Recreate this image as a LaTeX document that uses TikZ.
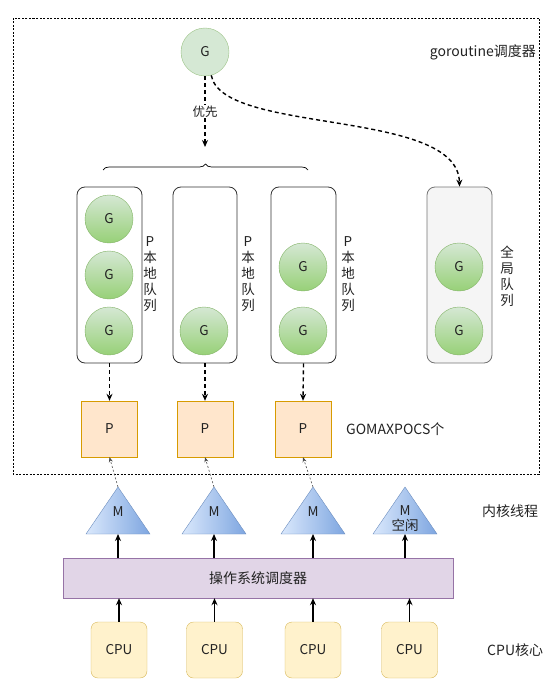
\documentclass[tikz,border=0pt]{standalone}
\usepackage{fontspec}
\setmainfont{Noto Sans CJK SC}
\usetikzlibrary{arrows.meta,decorations.pathreplacing,calc}
\definecolor{gborder}{HTML}{82B366}
\definecolor{gtop}{HTML}{D5E8D4}
\definecolor{gbot}{HTML}{97D077}
\definecolor{pfill}{HTML}{FFE6CC}
\definecolor{pborder}{HTML}{D79B00}
\definecolor{mleft}{HTML}{DAE8FC}
\definecolor{mright}{HTML}{7EA6E0}
\definecolor{mborder}{HTML}{6C8EBF}
\definecolor{osfill}{HTML}{E1D5E7}
\definecolor{osborder}{HTML}{9673A6}
\definecolor{cpufill}{HTML}{FFF2CC}
\definecolor{cpuborder}{HTML}{D6B656}
\definecolor{txt}{HTML}{222222}
\tikzset{
  gnode/.style={circle, minimum size=48pt, inner sep=0pt, draw=gborder, top color=gtop, bottom color=gbot, font=\fontsize{13.5}{13.5}\selectfont, text=txt},
  qbox/.style={draw=black!80, rounded corners=8pt, line width=0.8pt},
  pbox/.style={draw=pborder, fill=pfill, minimum size=56pt, inner sep=0pt, font=\fontsize{13.5}{13.5}\selectfont, text=txt},
  cpubox/.style={draw=cpuborder, fill=cpufill, rounded corners=7pt, minimum size=56pt, inner sep=0pt, font=\fontsize{13.5}{13.5}\selectfont, text=txt},
  lbl/.style={font=\fontsize{14}{14}\selectfont, text=txt, inner sep=0pt},
  vlbl/.style={font=\fontsize{13.5}{16}\selectfont, text=txt, inner sep=0pt, align=center},
  darr/.style={-{Stealth[length=7pt,width=6pt]}, dashed, dash pattern=on 4pt off 3pt, line width=1.4pt},
  thinarr/.style={-{Stealth[length=5pt,width=4pt]}, dashed, dash pattern=on 2pt off 2pt, line width=0.6pt, draw=black!70},
  sarr/.style={-{Stealth[length=7pt,width=6pt]}, line width=1.4pt},
  mtri/.style={draw=mborder, left color=mleft, right color=mright},
}
\begin{document}
\begin{tikzpicture}[x=1pt,y=-1pt]
\useasboundingbox (0,0) rectangle (558,690);
% outer dashed region
\draw[dashed, dash pattern=on 2pt off 1.5pt, line width=0.6pt] (13,18) rectangle (539,474);
\node[lbl, anchor=east] (lgo) at (536,52) {goroutine调度器};

% top G
\node[gnode, draw=gborder!80, top color=gtop, bottom color=gtop] (g0) at (205,52) {G};

% brace
\coordinate (brL) at (103,170);
\coordinate (brR) at (308,170);
\draw[decorate, decoration={brace, amplitude=6pt}, line width=0.7pt] (brL) -- (brR);
\coordinate (brTip) at (205,147);
\draw[darr] (g0.south) -- node[fill=white, lbl, inner sep=1pt, font=\fontsize{12.5}{12.5}\selectfont] (lyx) {优先} (brTip);

% local queues
\node[qbox, minimum width=65pt, minimum height=176pt, inner sep=0pt] (q1) at (109.5,275) {};
\node[qbox, minimum width=64pt, minimum height=176pt, inner sep=0pt] (q2) at (205,275) {};
\node[qbox, minimum width=65pt, minimum height=176pt, inner sep=0pt] (q3) at (303.5,275) {};
\node[qbox, draw=black!55, fill=black!4, minimum width=65pt, minimum height=176pt, inner sep=0pt] (gq) at (459.5,275) {};

\node[gnode] (g11) at (109,219) {G};
\node[gnode] (g12) at (109,275) {G};
\node[gnode] (g13) at (109,331) {G};
\node[gnode] (g21) at (204,331) {G};
\node[gnode] (g31) at (303,267) {G};
\node[gnode] (g32) at (303,331) {G};
\node[gnode] (gg1) at (459,267) {G};
\node[gnode] (gg2) at (459,331) {G};

\node[vlbl, anchor=north] (l1) at (150,236) {P\\本\\地\\队\\列};
\node[vlbl, anchor=north] (l2) at (248,236) {P\\本\\地\\队\\列};
\node[vlbl, anchor=north] (l3) at (348,236) {P\\本\\地\\队\\列};
\node[vlbl, anchor=north] (l4) at (507,246) {全\\局\\队\\列};

% curved arrow
\draw[darr] (g0.-75) .. controls (222,135) and (458,108) .. (gq.north);

% P boxes
\node[pbox] (p1) at (109.5,429) {P};
\node[pbox] (p2) at (205,429) {P};
\node[pbox] (p3) at (303,429) {P};
\node[lbl, anchor=west] (lgm) at (346,429) {GOMAXPOCS个};
\draw[darr] (q1.south) -- (p1.north);
\draw[darr] (q2.south) -- (p2.north);
\draw[darr] (q3.south) -- (p3.north);

% M triangles
\foreach \i/\x in {1/118,2/214,3/313,4/405}{
  \path[mtri] (\x,487) -- (\x+32,534) -- (\x-32,534) -- cycle;
  \coordinate (mt\i) at (\x,487);
  \coordinate (mb\i) at (\x,534);
}
\node[lbl, font=\fontsize{13.5}{13.5}\selectfont] (m1) at (118,512) {M};
\node[lbl, font=\fontsize{13.5}{13.5}\selectfont] (m2) at (214,512) {M};
\node[lbl, font=\fontsize{13.5}{13.5}\selectfont] (m3) at (313,512) {M};
\node[vlbl, font=\fontsize{13.5}{15}\selectfont] (m4) at (405,519) {M\\空闲};
\node[lbl, anchor=west] (lkt) at (482,511) {内核线程};

\draw[thinarr] (mt1) -- (p1.south);
\draw[thinarr] (mt2) -- (p2.south);
\draw[thinarr] (mt3) -- (p3.south);

% OS scheduler
\node[draw=osborder, fill=osfill, minimum width=390pt, minimum height=40pt, inner sep=0pt, lbl] (os) at (258,578) {操作系统调度器};
\draw[sarr] (os.north -| mb1) -- (mb1);
\draw[sarr] (os.north -| mb2) -- (mb2);
\draw[sarr] (os.north -| mb3) -- (mb3);
\draw[sarr] (os.north -| mb4) -- (mb4);

% CPUs
\node[cpubox] (c1) at (119,650) {CPU};
\node[cpubox] (c2) at (214.5,650) {CPU};
\node[cpubox] (c3) at (313,650) {CPU};
\node[cpubox] (c4) at (409.5,650) {CPU};
\node[lbl, anchor=west] (lcpu) at (487,650) {CPU核心};
\draw[sarr] (c1.north) -- (c1.north |- os.south);
\draw[sarr] (c2.north) -- (c2.north |- os.south);
\draw[sarr] (c3.north) -- (c3.north |- os.south);
\draw[sarr] (c4.north) -- (c4.north |- os.south);
\end{tikzpicture}
\end{document}
